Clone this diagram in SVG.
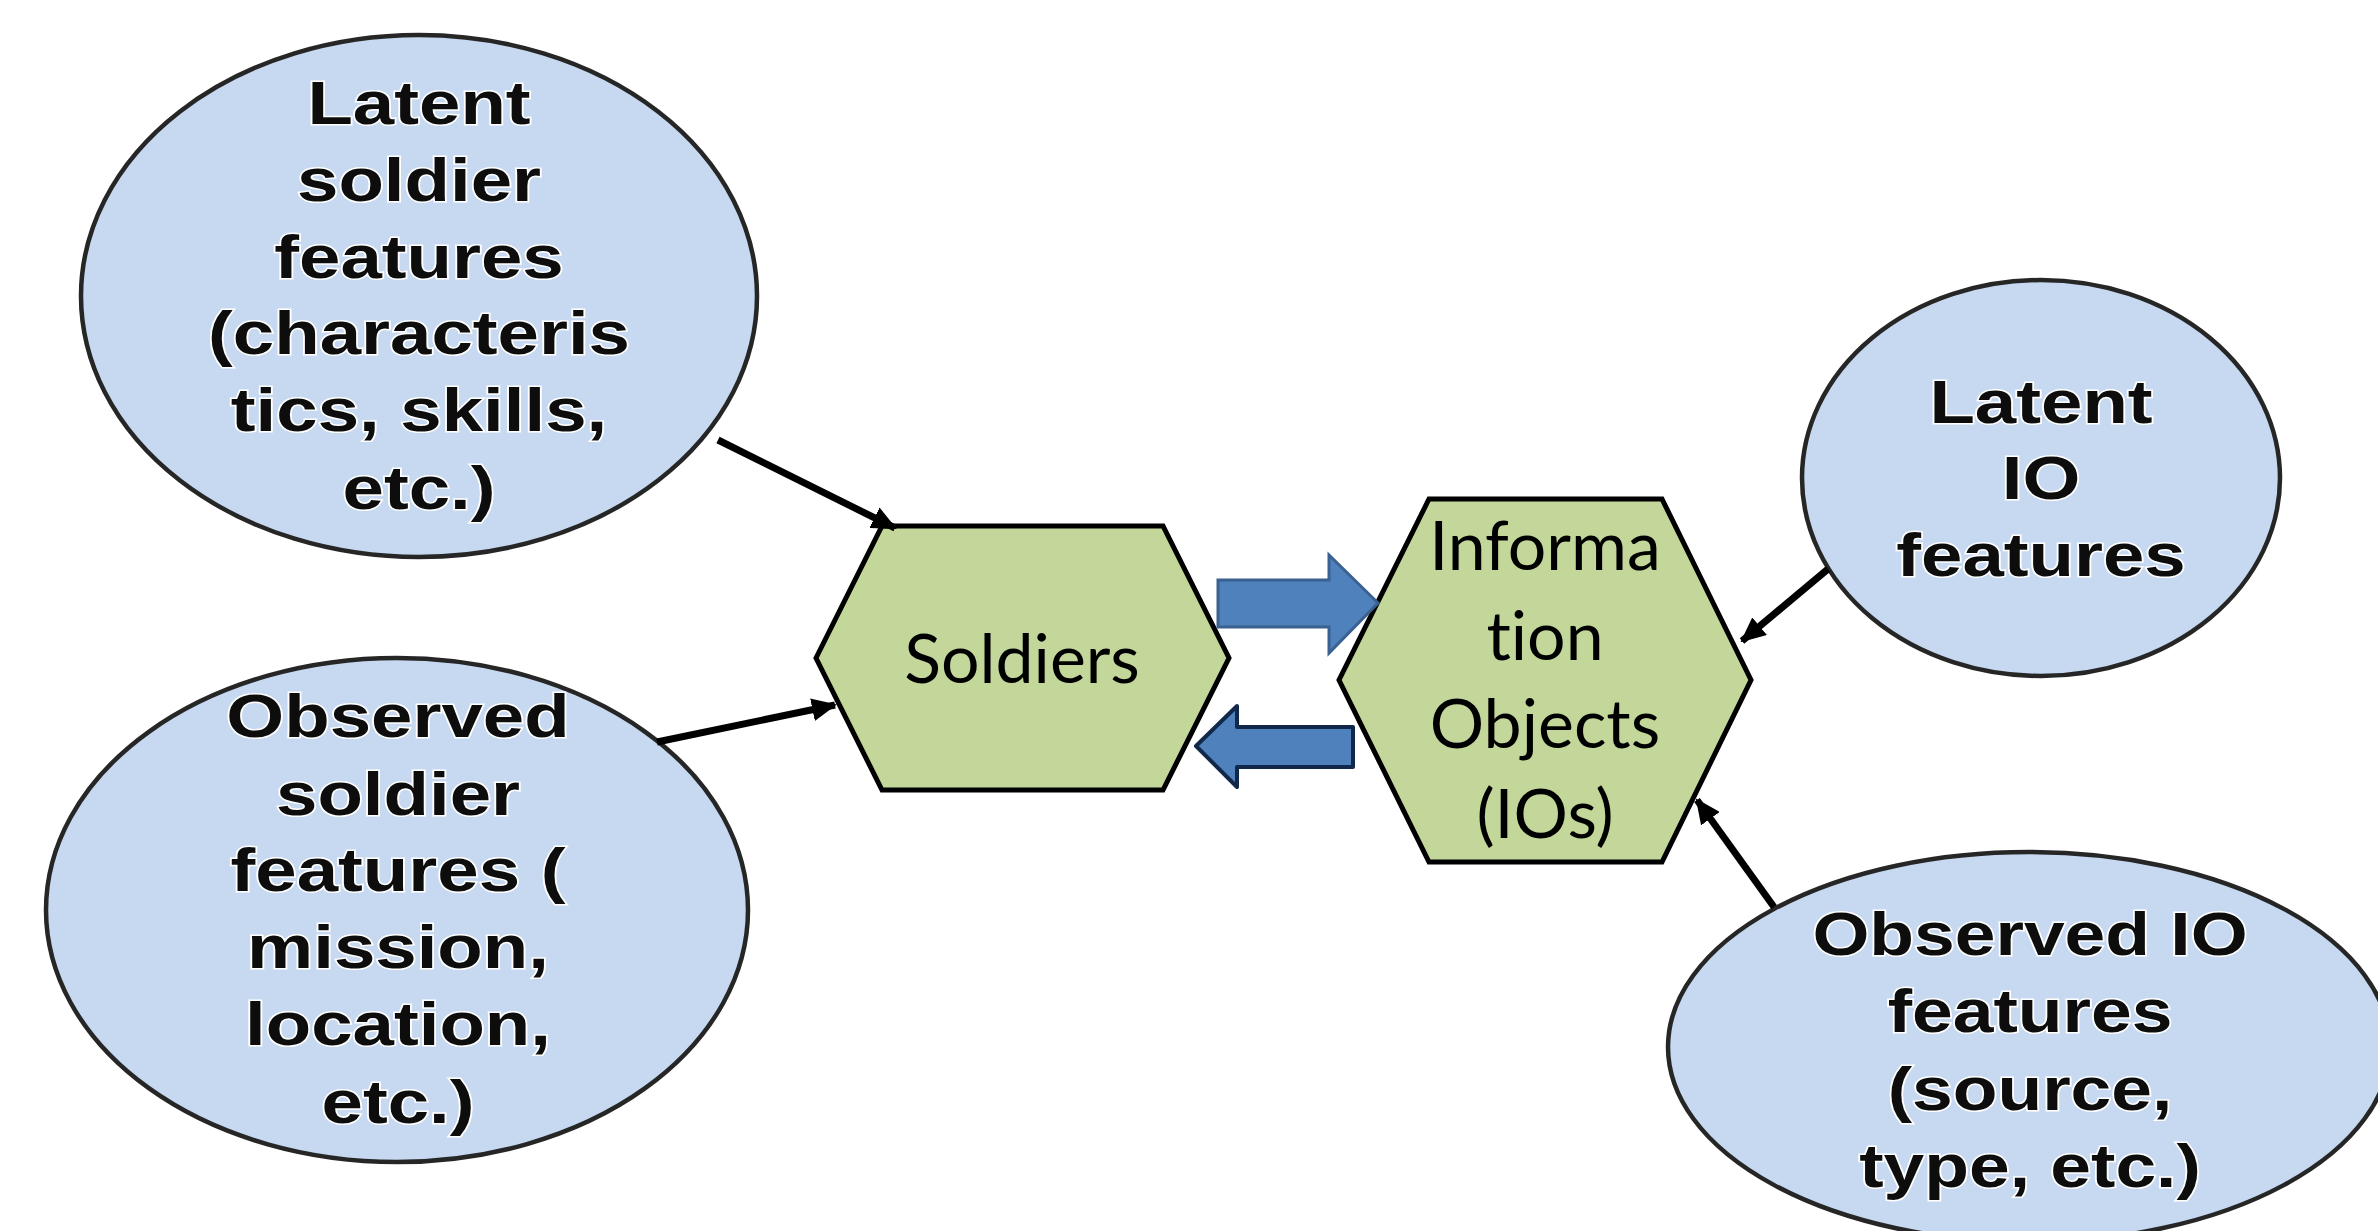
<svg xmlns="http://www.w3.org/2000/svg" width="2378" height="1231" viewBox="0 0 2378 1231">
<style>
.ell{fill:#c6d9f0;stroke:#262626;stroke-width:4.5}
.hex{fill:#c4d79b;stroke:#000;stroke-width:5;stroke-linejoin:miter}
.et{font-family:"Liberation Sans",Arial,sans-serif;font-weight:bold;font-size:61px;fill:#0d0d0d;stroke:#fff;stroke-width:3;paint-order:stroke;text-anchor:middle}
.ht{font-family:Lato,"Open Sans",sans-serif;font-size:68px;fill:#000;text-anchor:middle;font-variant-ligatures:none}
.con{stroke:#000;stroke-width:7;fill:none}
</style>
<defs>
<marker id="ah" markerUnits="userSpaceOnUse" markerWidth="25" markerHeight="23" viewBox="0 0 25 23" refX="23" refY="11.5" orient="auto">
<path d="M0,0 L25,11.5 L0,23 Z" fill="#000"/>
</marker>
</defs>
<rect width="2378" height="1231" fill="#fff"/>

<g id="latent-soldier">
<ellipse class="ell" cx="419" cy="296" rx="338" ry="261"/>
<g transform="translate(419 0) scale(1.22 1)">
<text class="et" x="0" y="124">Latent</text>
<text class="et" x="0" y="201">soldier</text>
<text class="et" x="0" y="278">features</text>
<text class="et" x="0" y="354">(characteris</text>
<text class="et" x="0" y="431">tics, skills,</text>
<text class="et" x="0" y="509">etc.)</text>
</g>
</g>

<g id="observed-soldier">
<ellipse class="ell" cx="397" cy="910" rx="351" ry="252"/>
<g transform="translate(398 0) scale(1.22 1)">
<text class="et" x="0" y="737">Observed</text>
<text class="et" x="0" y="815">soldier</text>
<text class="et" x="0" y="891">features (</text>
<text class="et" x="0" y="968">mission,</text>
<text class="et" x="0" y="1045">location,</text>
<text class="et" x="0" y="1123">etc.)</text>
</g>
</g>

<g id="latent-io">
<ellipse class="ell" cx="2041" cy="478" rx="239" ry="198"/>
<g transform="translate(2041 0) scale(1.22 1)">
<text class="et" x="0" y="423">Latent</text>
<text class="et" x="0" y="499">IO</text>
<text class="et" x="0" y="576">features</text>
</g>
</g>

<g id="observed-io">
<ellipse class="ell" cx="2029" cy="1047" rx="361" ry="195"/>
<g transform="translate(2030 0) scale(1.2 1)">
<text class="et" x="0" y="955">Observed IO</text>
<text class="et" x="0" y="1032">features</text>
<text class="et" x="0" y="1110">(source,</text>
<text class="et" x="0" y="1187">type, etc.)</text>
</g>
</g>

<g id="soldiers">
<polygon class="hex" points="816,658 882,526 1163,526 1229,658 1163,790 882,790"/>
<text class="ht" x="1022" y="683">Soldiers</text>
</g>

<g id="information-objects">
<polygon class="hex" points="1339,680 1429,499 1662,499 1751,680 1662,862 1429,862"/>
<text class="ht" x="1545" y="570">Informa</text>
<text class="ht" x="1545" y="660">tion</text>
<text class="ht" x="1545" y="748">Objects</text>
<text class="ht" x="1545" y="838">(IOs)</text>
</g>

<g id="connectors">
<line class="con" x1="718" y1="440" x2="895" y2="528" marker-end="url(#ah)"/>
<line class="con" x1="657" y1="742" x2="835" y2="705" marker-end="url(#ah)"/>
<line class="con" x1="1828" y1="569" x2="1742" y2="641" marker-end="url(#ah)"/>
<line class="con" x1="1774" y1="907" x2="1697" y2="800" marker-end="url(#ah)"/>
<polygon points="1218,580 1329,580 1329,555 1378,603 1329,653 1329,627 1218,627" fill="#4f81bd" stroke="#3b6190" stroke-width="3" stroke-linejoin="miter"/>
<polygon points="1353,727 1237,727 1237,706 1196,746 1237,787 1237,767 1353,767" fill="#4f81bd" stroke="#12284a" stroke-width="4" stroke-linejoin="round"/>
</g>
</svg>
